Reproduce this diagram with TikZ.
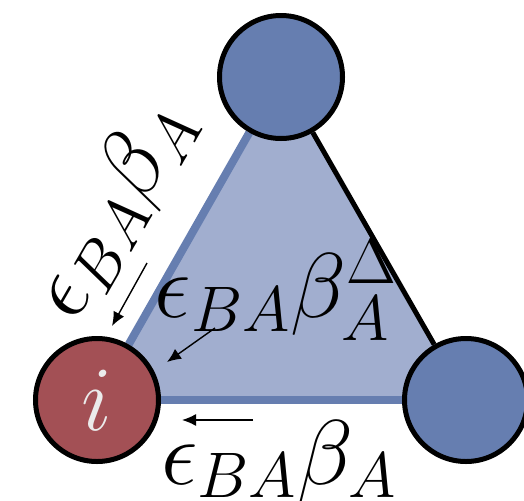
\RequirePackage{fix-cm}
\documentclass[tikz,border=0pt]{standalone}
\usepackage{amsmath}
\usepackage{xcolor}
\usetikzlibrary{arrows.meta,backgrounds}
\definecolor{nodeblue}{RGB}{102,126,176}
\definecolor{faceblue}{RGB}{161,174,207}
\definecolor{nodered}{RGB}{163,80,85}

\begin{document}
\begin{tikzpicture}[x=0.5pt,y=0.5pt,
    vert/.style={circle,draw=black,line width=2.5pt,minimum size=61.5pt,inner sep=0pt,fill=nodeblue},
    lbl/.style={inner sep=0pt,font=\fontsize{46}{54}\selectfont},
    pointer/.style={-{Latex[length=7pt,width=6pt]},line width=0.7pt}]
        \useasboundingbox (0,0) rectangle (524,500);
        \node[vert] (top) at (281,423) {};
        \node[vert,fill=nodered,text=black!8] (i) at (97,100) {\fontsize{46}{54}\selectfont$i$};
        \node[vert] (right) at (466,100) {};
        \begin{scope}[on background layer]
            \fill[faceblue] (i.center)--(top.center)--(right.center)--cycle;
            \draw[nodeblue,line width=4pt] (i)--(top);
            \draw[nodeblue,line width=4pt] (i)--(right);
            \draw[line width=2.5pt] (top)--(right);
        \end{scope}
        \node[lbl,rotate=60] (side) at (114,290) {$\epsilon_{BA}\beta_A$};
        \node[lbl] (mid) at (276,210) {$\epsilon_{BA}\beta^{\Delta}_A$};
        \node[lbl] (bot) at (279,39) {$\epsilon_{BA}\beta_A$};
        \coordinate (sidetail) at (147,237);
        \coordinate (sidehead) at (112,174);
        \coordinate (midtail) at (215,172);
        \coordinate (midhead) at (167,138);
        \coordinate (bottail) at (253,80);
        \coordinate (bothead) at (182,80);
        \draw[pointer] (sidetail)--(sidehead);
        \draw[pointer] (midtail)--(midhead);
        \draw[pointer] (bottail)--(bothead);
    \end{tikzpicture}
\end{document}
